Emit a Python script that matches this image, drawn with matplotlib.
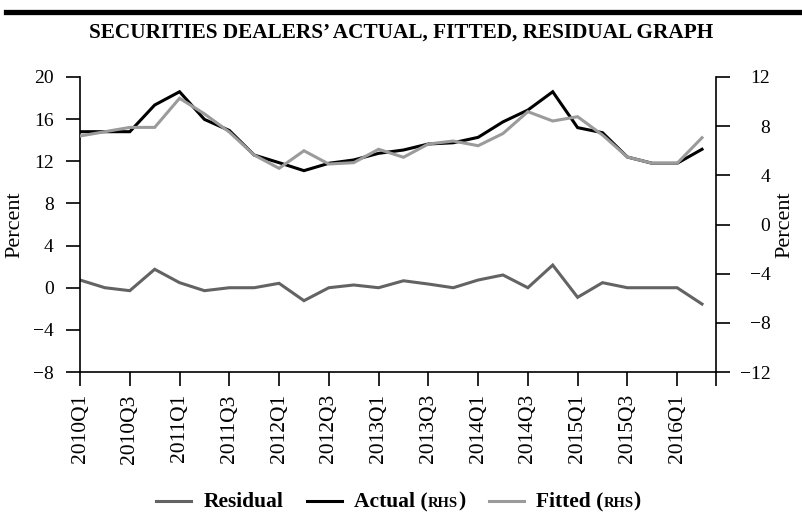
import matplotlib.pyplot as plt
import numpy as np
from matplotlib.lines import Line2D
from matplotlib.offsetbox import AnchoredOffsetbox, DrawingArea, HPacker, TextArea

plt.rcParams["font.family"] = ["Liberation Serif", "DejaVu Serif"]

quarters = ["2010Q1", "2010Q2", "2010Q3", "2010Q4", "2011Q1", "2011Q2", "2011Q3", "2011Q4",
            "2012Q1", "2012Q2", "2012Q3", "2012Q4", "2013Q1", "2013Q2", "2013Q3", "2013Q4",
            "2014Q1", "2014Q2", "2014Q3", "2014Q4", "2015Q1", "2015Q2", "2015Q3", "2015Q4",
            "2016Q1", "2016Q2"]
# residual on the left axis, actual and fitted on the right axis
residual = [0.73, 0.0, -0.28, 1.75, 0.48, -0.28, 0.0, 0.0, 0.42, -1.23, 0.0, 0.26, 0.0,
            0.66, 0.35, 0.0, 0.73, 1.21, 0.0, 2.15, -0.91, 0.48, 0.0, 0.0, 0.0, -1.55]
actual = [7.55, 7.55, 7.55, 9.72, 10.8, 8.55, 7.65, 5.65, 5.03, 4.38, 4.98, 5.25, 5.79,
          6.06, 6.55, 6.65, 7.09, 8.35, 9.31, 10.8, 7.88, 7.47, 5.49, 4.98, 4.98, 6.12]
fitted = [7.2, 7.55, 7.9, 7.9, 10.27, 9.0, 7.52, 5.65, 4.57, 6.0, 4.92, 5.03, 6.12,
          5.47, 6.55, 6.79, 6.41, 7.4, 9.18, 8.42, 8.77, 7.28, 5.49, 4.98, 4.98, 7.06]

c_res = "#636363"
c_act = "black"
c_fit = "#9b9b9b"
fs_y = 14
fs_x = 15.5
fs_leg = 15.5

fig = plt.figure(figsize=(8.02, 5.31), dpi=100)
ax = fig.add_axes([0.0998, 0.2994, 0.7932, 0.5556])
ax2 = ax.twinx()

x = np.arange(len(quarters))
ax.plot(x, residual, color=c_res, lw=2.2, solid_joinstyle="miter")
ax2.plot(x, actual, color=c_act, lw=2.2, solid_joinstyle="miter")
ax2.plot(x, fitted, color=c_fit, lw=2.2, solid_joinstyle="miter")

xmax = 25.57
ax.set_xlim(0, xmax)
ax.set_ylim(-8, 20)
ax.set_yticks(range(-8, 21, 4))
ax2.set_ylim(-12, 12)
ax2.set_yticks(range(-12, 13, 4))
ax.set_xticks(list(x[::2]) + [xmax], quarters[::2] + [""], rotation=90)

for s in ["top", "right"]:
    ax.spines[s].set_visible(False)
for s in ["top", "left", "bottom"]:
    ax2.spines[s].set_visible(False)
ax.spines["left"].set_linewidth(1.2)
ax.spines["bottom"].set_linewidth(1.2)
ax2.spines["right"].set_linewidth(1.2)

ax.tick_params(axis="y", length=10, width=1.2, labelsize=fs_y, pad=9)
ax.tick_params(axis="x", length=10, width=1.2, labelsize=fs_x, pad=6)
ax2.tick_params(axis="y", length=10, width=1.2, labelsize=fs_y, pad=29)
for t in ax2.yaxis.get_major_ticks():
    t.label2.set_horizontalalignment("right")

ax.set_ylabel("Percent", fontsize=16)
ax.yaxis.set_label_coords(-0.088, 0.5)
ax2.set_ylabel("Percent", fontsize=16)
ax2.yaxis.set_label_coords(1.093, 0.5)

fig.text(0.5, 0.938, "SECURITIES DEALERS\u2019 ACTUAL, FITTED, RESIDUAL GRAPH",
         ha="center", va="center", fontsize=15.3, fontweight="bold")
fig.add_artist(Line2D([0.007, 1], [0.978, 0.978], transform=fig.transFigure,
                      color="black", lw=3.8))


# legend with small-caps style "RHS" tags
def entry(color, name, tag):
    da = DrawingArea(25, 10, 0, 0)
    da.add_artist(Line2D([0, 25], [4, 4], color=color, lw=2.2))
    bold = dict(fontsize=fs_leg, fontweight="bold")
    parts = [TextArea(name + (" (" if tag else ""), textprops=bold)]
    if tag:
        parts.append(TextArea("RHS", textprops=dict(fontsize=10.5, fontweight="bold")))
        parts.append(TextArea(")", textprops=bold))
    label = HPacker(children=parts, align="baseline", pad=0, sep=0)
    return HPacker(children=[da, label], align="baseline", pad=0, sep=9)


items = HPacker(children=[entry(c_res, "Residual", False),
                          entry(c_act, "Actual", True),
                          entry(c_fit, "Fitted", True)],
                align="baseline", pad=0, sep=17)
box = AnchoredOffsetbox(loc="center", child=items, frameon=False, pad=0, borderpad=0,
                        bbox_to_anchor=(0.497, 0.055), bbox_transform=fig.transFigure)
fig.add_artist(box)

fig.savefig("out.png", dpi=100)
